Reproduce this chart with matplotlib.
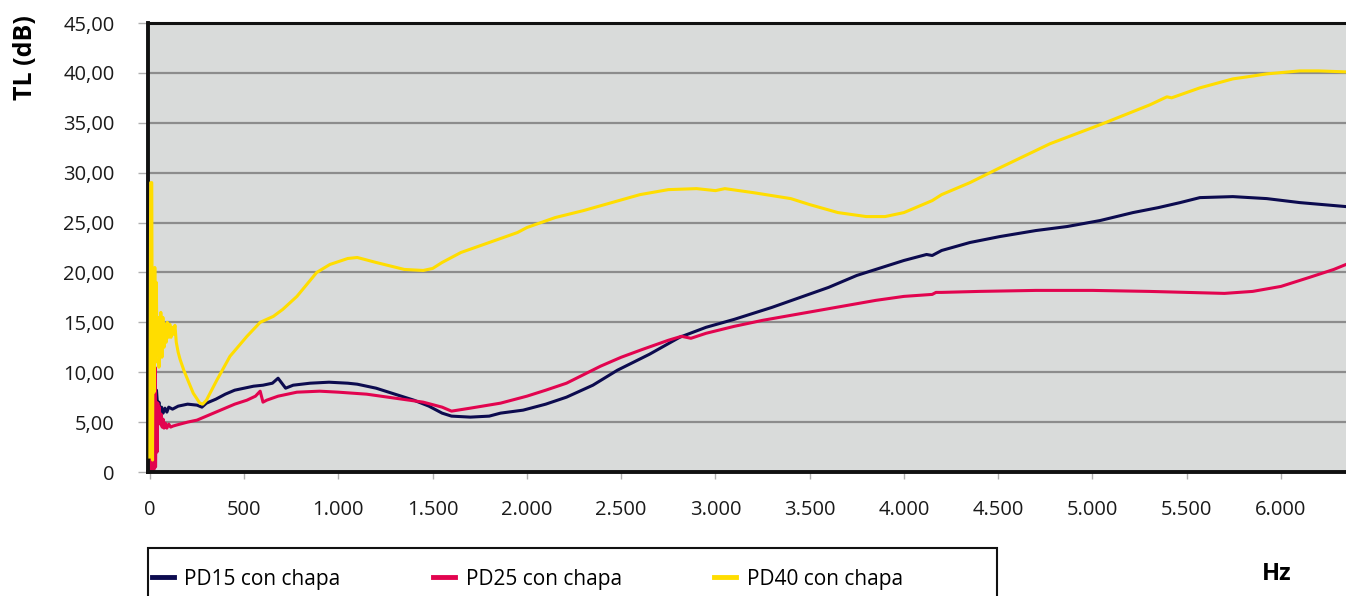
import matplotlib
matplotlib.use("Agg")
import matplotlib.pyplot as plt
from matplotlib.patches import Rectangle
from matplotlib.ticker import FuncFormatter, MultipleLocator

plt.rcParams["font.family"] = ["Open Sans", "DejaVu Sans"]

# --- data (Hz, dB) ---
pd15_hz = [0, 5, 22, 25, 30, 35, 42, 48, 55, 62, 70, 80, 90, 100, 120, 150, 200, 250,
           276, 300, 350, 400, 450, 500, 550, 600, 650, 680, 700, 720, 760, 850, 950,
           1050, 1100, 1150, 1200, 1300, 1400, 1480, 1550, 1600, 1700, 1800, 1860, 1980,
           2100, 2210, 2350, 2480, 2650, 2810, 2950, 3100, 3300, 3450, 3600, 3750, 3850,
           4000, 4120, 4150, 4200, 4350, 4510, 4700, 4865, 5040, 5215, 5350, 5465, 5570,
           5745, 5925, 6100, 6345]
pd15_tl = [0.3, 0.5, 0.8, 8.7, 7.5, 8.2, 6.3, 7.0, 5.8, 6.5, 5.9, 6.4, 6.0, 6.5, 6.3, 6.6,
           6.8, 6.7, 6.5, 6.9, 7.3, 7.8, 8.2, 8.4, 8.6, 8.7, 8.9, 9.4, 8.9, 8.4, 8.7, 8.9,
           9.0, 8.9, 8.8, 8.6, 8.4, 7.8, 7.2, 6.6, 5.9, 5.6, 5.5, 5.6, 5.9, 6.2, 6.8, 7.5,
           8.7, 10.2, 11.8, 13.5, 14.5, 15.3, 16.5, 17.5, 18.5, 19.7, 20.3, 21.2, 21.8,
           21.7, 22.2, 23.0, 23.6, 24.2, 24.6, 25.2, 26.0, 26.5, 27.0, 27.5, 27.6, 27.4,
           27.0, 26.6]

pd25_hz = [0, 2, 4, 6, 8, 10, 12, 15, 17, 20, 23, 27, 30, 34, 38, 42, 46, 50, 55, 60, 65,
           70, 75, 82, 90, 100, 110, 122, 140, 160, 200, 250, 300, 350, 400, 450, 515,
           560, 585, 600, 620, 680, 780, 900, 1000, 1150, 1300, 1450, 1550, 1600, 1700,
           1860, 2000, 2100, 2210, 2390, 2500, 2615, 2750, 2820, 2870, 2950, 3100, 3250,
           3400, 3550, 3700, 3850, 4000, 4150, 4170, 4200, 4400, 4700, 5000, 5300, 5500,
           5700, 5850, 6000, 6150, 6280, 6345]
pd25_tl = [0.3, 7.0, 0.2, 6.8, 0.3, 6.5, 0.3, 20.3, 0.2, 7.0, 0.3, 10.5, 0.5, 7.0, 2.0,
           6.9, 5.0, 6.5, 4.8, 5.8, 4.5, 5.3, 4.4, 4.9, 4.4, 4.8, 4.5, 4.6, 4.7, 4.8, 5.0,
           5.2, 5.6, 6.0, 6.4, 6.8, 7.2, 7.6, 8.1, 7.0, 7.2, 7.6, 8.0, 8.1, 8.0, 7.8, 7.4,
           7.0, 6.5, 6.1, 6.4, 6.9, 7.6, 8.2, 8.9, 10.6, 11.5, 12.3, 13.2, 13.6, 13.4,
           13.9, 14.6, 15.2, 15.7, 16.2, 16.7, 17.2, 17.6, 17.8, 18.0, 18.0, 18.1, 18.2,
           18.2, 18.1, 18.0, 17.9, 18.1, 18.6, 19.5, 20.3, 20.8]

pd40_hz = [0, 4, 10, 14, 18, 22, 26, 30, 34, 38, 42, 48, 53, 58, 64, 69, 75, 80, 86, 92,
           100, 106, 112, 118, 125, 133, 140, 150, 160, 180, 195, 230, 265, 280, 300,
           355, 425, 515, 585, 655, 705, 780, 885, 955, 1050, 1100, 1200, 1350, 1450,
           1500, 1550, 1650, 1800, 1950, 2000, 2150, 2300, 2450, 2600, 2750, 2900, 3000,
           3050, 3200, 3400, 3500, 3650, 3800, 3900, 4000, 4100, 4150, 4200, 4350, 4510,
           4775, 5040, 5305, 5395, 5420, 5570, 5745, 5820, 5925, 6100, 6200, 6345]
pd40_tl = [1.5, 29.0, 29.0, 1.2, 20.0, 8.0, 20.5, 11.0, 19.0, 12.0, 15.5, 10.5, 12.0,
           16.0, 11.5, 15.5, 12.5, 14.8, 13.0, 15.0, 13.5, 14.8, 13.5, 14.5, 13.8, 14.7,
           13.0, 12.0, 11.3, 10.2, 9.5, 7.9, 6.9, 6.8, 7.2, 9.2, 11.6, 13.6, 15.0, 15.6,
           16.3, 17.6, 20.0, 20.8, 21.4, 21.5, 21.0, 20.3, 20.2, 20.4, 21.0, 22.0, 23.0,
           24.0, 24.5, 25.5, 26.2, 27.0, 27.8, 28.3, 28.4, 28.2, 28.4, 28.0, 27.4, 26.8,
           26.0, 25.6, 25.6, 26.0, 26.8, 27.2, 27.8, 29.0, 30.5, 32.9, 34.8, 36.8, 37.6,
           37.5, 38.5, 39.4, 39.6, 39.9, 40.2, 40.2, 40.1]

labels = ["PD15 con chapa", "PD25 con chapa", "PD40 con chapa"]
colors = ["#0c0b4f", "#e2044f", "#ffdd00"]

W, H = 1346, 596
fig = plt.figure(figsize=(W / 100, H / 100), dpi=100)
ax = fig.add_axes([148 / W, 1 - 472 / H, 1 - 148 / W, (472 - 23) / H])
ax.set_facecolor("#d9dbda")

lines = []
for hz, tl, lab, col in zip([pd15_hz, pd25_hz, pd40_hz], [pd15_tl, pd25_tl, pd40_tl],
                            labels, colors):
    ln, = ax.plot(hz, tl, color=col, lw=2.2, label=lab, solid_joinstyle="round")
    lines.append(ln)

# yellow drawn on top at low frequencies like the reference
lines[2].set_zorder(3)
lines[1].set_zorder(2.5)

ax.set_xlim(-10, 6345)
ax.set_ylim(0, 45)
ax.yaxis.set_major_locator(MultipleLocator(5))
ax.xaxis.set_major_locator(MultipleLocator(500))
ax.yaxis.set_major_formatter(FuncFormatter(
    lambda v, _: "0" if v == 0 else f"{v:.2f}".replace(".", ",")))
ax.xaxis.set_major_formatter(FuncFormatter(
    lambda v, _: f"{int(v):,}".replace(",", ".")))

ax.grid(True, axis="y", color="#8c8c8c", lw=1.6)
ax.set_axisbelow(True)
ax.tick_params(axis="y", length=7, width=1, color="#b0b0b0", pad=17, labelsize=14.5,
               labelcolor="#1a1a1a")
ax.tick_params(axis="x", length=5, width=1, color="#b0b0b0", pad=15, labelsize=14.5,
               labelcolor="#1a1a1a")

for side in ("left", "bottom"):
    ax.spines[side].set_linewidth(2.8)
    ax.spines[side].set_color("#111111")
ax.spines["top"].set_linewidth(2.2)
ax.spines["top"].set_color("#111111")
ax.spines["right"].set_visible(False)

fig.text(25 / W, 1 - 58 / H, "TL (dB)", rotation=90, ha="center", va="center",
         fontsize=18, fontweight="bold")
fig.text(1277 / W, 1 - 574 / H, "Hz", ha="center", va="center", fontsize=17,
         fontweight="bold")

# legend box
fig.patches.append(Rectangle((148 / W, -0.05), (997 - 148) / W, 0.05 + (596 - 548) / H,
                             transform=fig.transFigure, fill=False, ec="#111111", lw=1.5))
leg = fig.legend(handles=lines, labels=labels, loc="center left", ncol=3,
                 bbox_to_anchor=(152 / W, 1 - 579 / H), frameon=False, fontsize=15,
                 handlelength=1.05, handletextpad=0.5, columnspacing=4.45,
                 borderpad=0, borderaxespad=0)
for hl in leg.get_lines():
    hl.set_linewidth(3.5)

fig.savefig("out.png", dpi=100)
